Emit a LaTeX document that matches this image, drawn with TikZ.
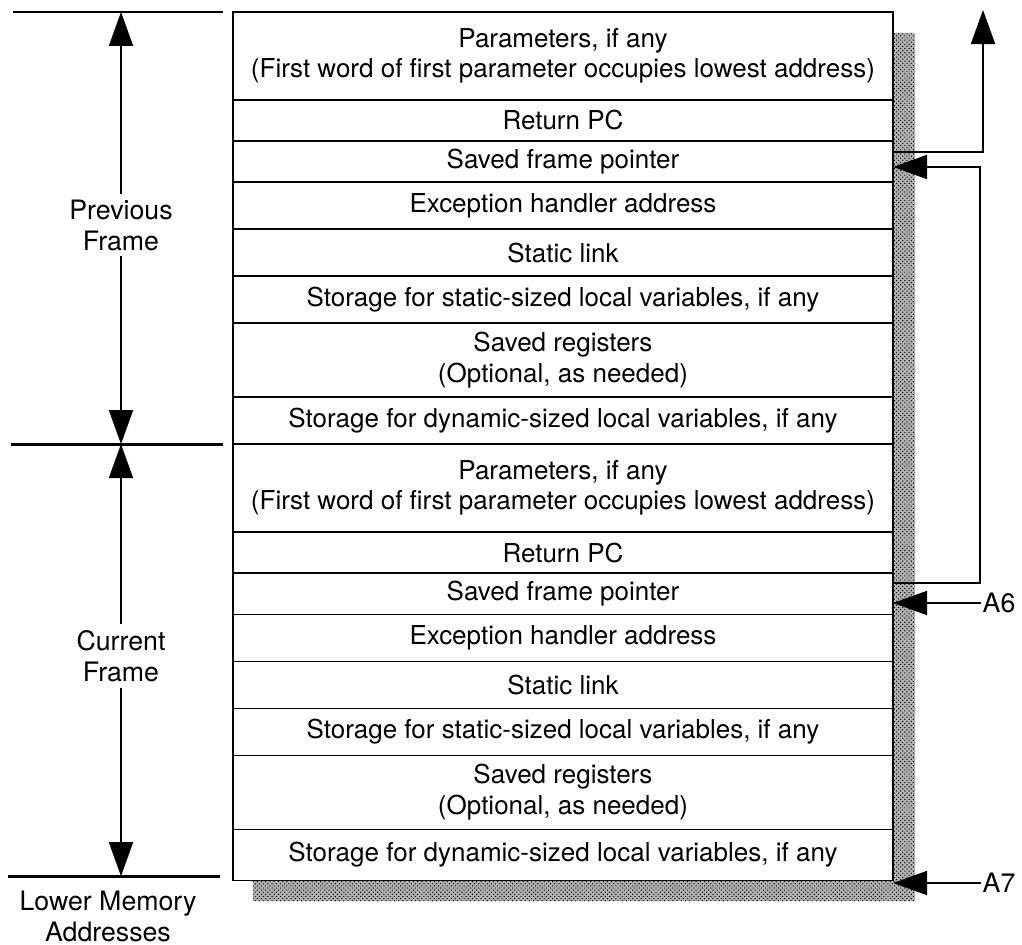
\documentclass[tikz,border=0pt]{standalone}
\usepackage{fontspec}
\setmainfont{TeX Gyre Heros}
\usetikzlibrary{arrows.meta, positioning, calc, backgrounds, patterns}

\begin{document}
\begin{tikzpicture}[
  x=0.025cm, y=-0.025cm,
  slot/.style={rectangle, draw, fill=white, line width=0.9pt, outer sep=0pt, inner sep=0pt, minimum width=16.5cm, minimum height=1.175cm, align=center, font=\fontsize{18.5}{21.5}\selectfont},
  thin slot/.style={slot, minimum height=1.025cm},
  pair slot/.style={slot, minimum height=1.85cm},
  param slot/.style={slot, minimum height=2.2cm},
  side/.style={align=center, inner sep=4pt, font=\fontsize{19}{22}\selectfont},
  reg/.style={anchor=west, inner sep=1pt, font=\fontsize{19}{23}\selectfont},
  ptr/.style={-{Triangle[length=0.85cm, width=0.6cm]}, line width=1.3pt},
  rule/.style={line width=2pt},
]
  \useasboundingbox (0,0) rectangle (1022,945);

  % previous frame
  \node[param slot] (p1) at (563,56) {Parameters, if any\\(First word of first parameter occupies lowest address)};
  \node[thin slot, below=0pt of p1] (p2) {Return PC};
  \node[thin slot, below=0pt of p2] (p3) {Saved frame pointer};
  \node[slot, below=0pt of p3] (p4) {Exception handler address};
  \node[slot, below=0pt of p4] (p5) {Static link};
  \node[slot, below=0pt of p5] (p6) {Storage for static-sized local variables, if any};
  \node[pair slot, below=0pt of p6] (p7) {Saved registers\\(Optional, as needed)};
  \node[slot, below=0pt of p7] (p8) {Storage for dynamic-sized local variables, if any};

  % current frame
  \node[param slot, below=0pt of p8] (c1) {Parameters, if any\\(First word of first parameter occupies lowest address)};
  \node[thin slot, below=0pt of c1] (c2) {Return PC};
  \node[thin slot, below=0pt of c2] (c3) {Saved frame pointer};
  \node[slot, below=0pt of c3] (c4) {Exception handler address};
  \node[slot, below=0pt of c4] (c5) {Static link};
  \node[slot, below=0pt of c5] (c6) {Storage for static-sized local variables, if any};
  \node[pair slot, below=0pt of c6] (c7) {Saved registers\\(Optional, as needed)};
  \node[slot, minimum height=1.275cm, below=0pt of c7] (c8) {Storage for dynamic-sized local variables, if any};

  \begin{scope}[on background layer]
    \fill[black!30] ($(p1.north west)+(20,21)$) rectangle ($(c8.south east)+(22,21)$);
    \fill[pattern=crosshatch dots, pattern color=black] ($(p1.north west)+(20,21)$) rectangle ($(c8.south east)+(22,21)$);
  \end{scope}

  % frame extents
  \draw[rule] ($(p1.north west)+(-220,0)$) -- ++(210,0);
  \draw[rule] ($(c1.north west)+(-222,0)$) -- ++(212,0);
  \draw[rule] ($(c8.south west)+(-225,-4)$) -- ++(212,0);

  \node[side] (prev) at (121,225) {Previous\\Frame};
  \node[side] (cur) at (121,656) {Current\\Frame};
  \node[side] (lower) at (108,916) {Lower Memory\\Addresses};

  \draw[ptr] (prev) -- (prev |- p1.north);
  \draw[ptr] (prev) -- (prev |- c1.north);
  \draw[ptr] (cur) -- (cur |- c1.north);
  \draw[ptr] (cur) -- ($(cur |- c8.south)+(0,-4)$);

  % pointers on the right
  \coordinate (ret) at (983,10);
  \coordinate (link) at (980,167);
  \draw[ptr] ($(p3.north east)+(0,11)$) -| (ret);
  \draw[ptr] ($(c3.north east)+(0,10)$) -| (link) -- (link -| p3.east);

  \node[reg] (a6) at (981,603) {A6};
  \node[reg] (a7) at (981,883) {A7};
  \draw[ptr] (a6.west) -- (a6.west -| c3.east);
  \draw[ptr] (a7.west) -- (a7.west -| c8.east);
\end{tikzpicture}
\end{document}
